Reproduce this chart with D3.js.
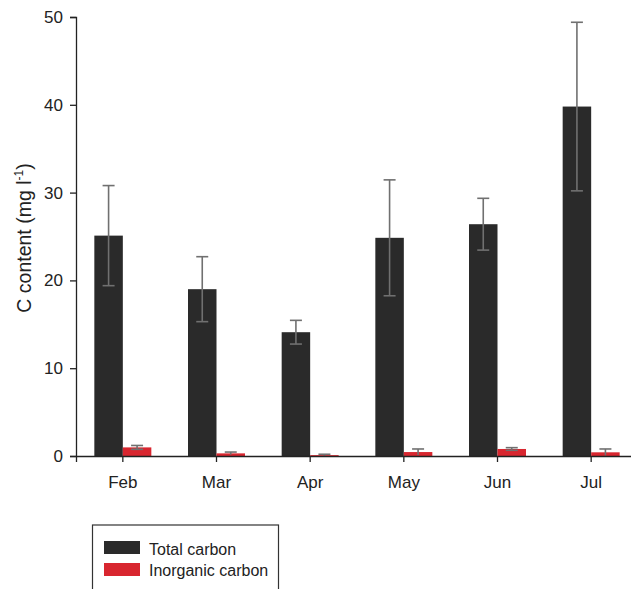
<!DOCTYPE html>
<html>
<head>
<meta charset="utf-8">
<script src="https://cdn.jsdelivr.net/npm/d3@7"></script>
<style>
  body { margin: 0; background: #fff; }
  svg { display: block; font-family: "Liberation Sans", Arial, sans-serif; }
</style>
</head>
<body>
<div id="chart"></div>
<script>
// values
var months = ["Feb", "Mar", "Apr", "May", "Jun", "Jul"];
var seriesNames = ["Total carbon", "Inorganic carbon"];
var totalCarbon = [25.1, 19.0, 14.1, 24.85, 26.4, 39.8];
var totalErr = [5.7, 3.7, 1.35, 6.6, 2.95, 9.6];
var inorganicCarbon = [0.98, 0.3, 0.1, 0.45, 0.8, 0.42];
var inorganicErr = [0.22, 0.15, 0.1, 0.35, 0.15, 0.38];
var yTicks = [0, 10, 20, 30, 40, 50];
var colors = ["#2a2a2a", "#d8262f"];

var width = 631, height = 589;

var svg = d3.select("#chart")
  .append("svg")
    .attr("width", width)
    .attr("height", height);

// scales
var x = d3.scaleBand()
  .domain(months)
  .range([76, 638])
  .padding(0);

var barW = 28.5;
var xSub = d3.scaleBand()
  .domain(seriesNames)
  .range([x.bandwidth() / 2 - barW, x.bandwidth() / 2 + barW]);

var y = d3.scaleLinear()
  .domain([0, 50])
  .range([456, 17]);

// data rows
var data = [];
months.forEach(function(m, i) {
  data.push({month: m, series: seriesNames[0], value: totalCarbon[i], err: totalErr[i]});
  data.push({month: m, series: seriesNames[1], value: inorganicCarbon[i], err: inorganicErr[i]});
});

// bars
svg.selectAll(".bar")
  .data(data)
  .join("rect")
    .attr("class", "bar")
    .attr("x", d => x(d.month) + xSub(d.series))
    .attr("width", xSub.bandwidth())
    .attr("y", d => y(d.value))
    .attr("height", d => y(0) - y(d.value))
    .attr("fill", d => colors[seriesNames.indexOf(d.series)]);

// error bars (upper + lower, drawn over the bar)
var capW = 12;
var errG = svg.append("g")
  .attr("stroke", "#707070")
  .attr("stroke-width", 1.6)
  .attr("fill", "none");

var cx = d => x(d.month) + xSub(d.series) + xSub.bandwidth() / 2;

errG.selectAll(".err")
  .data(data)
  .join("line")
    .attr("x1", cx).attr("x2", cx)
    .attr("y1", d => y(d.value + d.err))
    .attr("y2", d => y(Math.max(0, d.value - d.err)));

errG.selectAll(".capTop")
  .data(data)
  .join("line")
    .attr("x1", d => cx(d) - capW / 2).attr("x2", d => cx(d) + capW / 2)
    .attr("y1", d => y(d.value + d.err))
    .attr("y2", d => y(d.value + d.err));

errG.selectAll(".capBot")
  .data(data.filter(d => d.value - d.err > 0.5))
  .join("line")
    .attr("x1", d => cx(d) - capW / 2).attr("x2", d => cx(d) + capW / 2)
    .attr("y1", d => y(d.value - d.err))
    .attr("y2", d => y(d.value - d.err));

// axes
var xAxis = svg.append("g")
  .attr("transform", `translate(0,${y(0)})`)
  .call(d3.axisBottom(x).tickSizeOuter(0).tickSize(6).tickPadding(14));
xAxis.select(".domain").attr("stroke", "#222").attr("stroke-width", 1.3);
xAxis.selectAll(".tick line").attr("stroke", "#222").attr("stroke-width", 1.3);
xAxis.selectAll("text")
  .style("font-size", "17px")
  .attr("fill", "#222");

var yAxis = svg.append("g")
  .attr("transform", "translate(76,0)")
  .call(d3.axisLeft(y).tickValues(yTicks).tickSizeOuter(0).tickSize(6).tickPadding(7));
yAxis.select(".domain").attr("stroke", "#222").attr("stroke-width", 1.3);
yAxis.selectAll(".tick line").attr("stroke", "#222").attr("stroke-width", 1.3);
yAxis.selectAll("text")
  .style("font-size", "17px")
  .attr("fill", "#222");

// y label
var yLab = svg.append("text")
  .attr("transform", "translate(31,238) rotate(-90)")
  .attr("text-anchor", "middle")
  .style("font-size", "19.5px")
  .attr("fill", "#222");
yLab.append("tspan").text("C content (mg l");
yLab.append("tspan").attr("dy", -8).style("font-size", "12px").text("-1");
yLab.append("tspan").attr("dy", 8).text(")");

// legend
var leg = svg.append("g");
leg.append("rect")
  .attr("x", 92.5).attr("y", 525)
  .attr("width", 186).attr("height", 80)
  .attr("fill", "none")
  .attr("stroke", "#333")
  .attr("stroke-width", 1.2);

seriesNames.forEach(function(s, i) {
  leg.append("rect")
    .attr("x", 104).attr("y", 541 + i * 22)
    .attr("width", 36).attr("height", 13)
    .attr("fill", colors[i]);
  leg.append("text")
    .attr("x", 149).attr("y", 555 + i * 21)
    .style("font-size", "16px")
    .attr("fill", "#222")
    .text(s);
});
</script>
</body>
</html>
